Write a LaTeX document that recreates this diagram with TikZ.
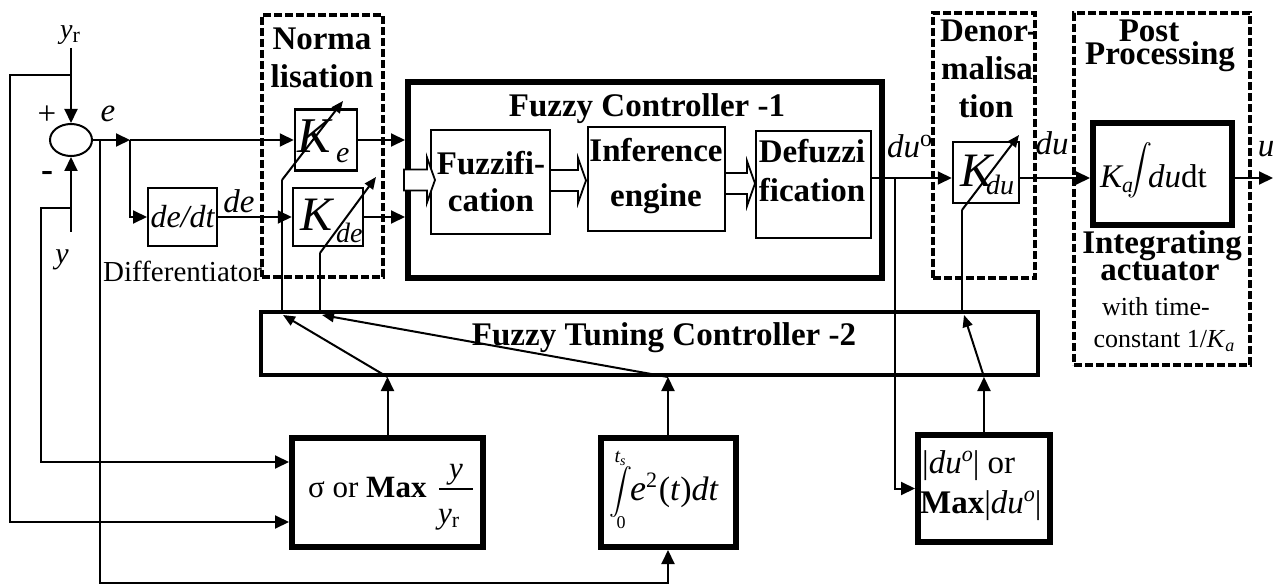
\documentclass[tikz,border=0pt]{standalone}
\usepackage{fontspec}
\setmainfont{Liberation Serif}
\usepackage{graphicx}
\usetikzlibrary{arrows.meta,shapes.geometric,calc}
\newcommand\fsz[1]{\fontsize{#1}{#1}\selectfont}
\newcommand\hollowarr[2]{\draw[line width=1.8pt,fill=white] ($(#1)+(0,-10.5)$) -- ++(#2,0) -- ++(0,-12) -- ++(8,22.5) -- ++(-8,22.5) -- ++(0,-12) -- ++(-#2,0) -- cycle;}
\begin{document}
\begin{tikzpicture}[x=1pt,y=-1pt,
  ln/.style={line width=2pt},
  arr/.style={ln,-{Triangle[length=14pt,width=13pt]}},
  arrs/.style={ln,-{Triangle[length=12pt,width=10pt]}},
  thinbox/.style={draw,line width=2.5pt,inner sep=0pt},
  thickbox/.style={draw,line width=6pt,inner sep=0pt},
  dbox/.style={draw,line width=4pt,dash pattern=on 8pt off 3pt,inner sep=0pt},
  bl/.style={font={\fsz{33}\bfseries},inner sep=0pt},
  txt/.style={inner sep=0pt},
]
\useasboundingbox (0,0) rectangle (1277,588);

% dashed group boxes
\node[dbox,minimum width=121,minimum height=262] (norm) at (322.5,146) {};
\node[dbox,minimum width=102,minimum height=265] (denorm) at (984,145.5) {};
\node[dbox,minimum width=176,minimum height=352] (post) at (1162,189) {};

% blocks
\node[draw,ellipse,line width=2pt,inner sep=0pt,minimum width=42,minimum height=32] (sum) at (71,140) {};
\node[thinbox,line width=2pt,minimum width=69,minimum height=58] (dedt) at (182.5,217) {\fsz{32}\itshape de/dt};
\node[thinbox,minimum width=62,minimum height=61] (Ke) at (326,140) {};
\node[thinbox,minimum width=70,minimum height=58] (Kde) at (328,217) {};
\node[thickbox,minimum width=474,minimum height=196] (fc1) at (645,180) {};
\node[thinbox,minimum width=119,minimum height=104] (fuzz) at (490.5,182) {};
\node[thinbox,minimum width=137,minimum height=104] (inf) at (656.5,179) {};
\node[thinbox,minimum width=115,minimum height=107] (defz) at (813.5,184.5) {};
\node[thinbox,minimum width=66,minimum height=61] (Kdu) at (986,172.5) {};
\node[thickbox,minimum width=139,minimum height=102] (Ka) at (1162.5,174) {};
\node[draw,line width=4pt,inner sep=0pt,minimum width=777,minimum height=63] (tune) at (649.5,343.5) {};
\node[thickbox,minimum width=191,minimum height=109] (sig) at (387.5,492.5) {};
\node[thickbox,minimum width=135,minimum height=109] (intb) at (668,492.5) {};
\node[thickbox,minimum width=132,minimum height=107] (dub) at (984,488.5) {};

% hollow arrows inside controller
\hollowarr{404,180}{23}
\hollowarr{550,180.5}{28}
\hollowarr{725,183.5}{22}

% texts
\node[bl,anchor=base] (tnorm1) at (322,50) {Norma};
\node[bl,anchor=base] (tnorm2) at (322,88) {lisation};
\node[bl,anchor=base] (tfc1) at (647,117) {Fuzzy Controller -1};
\node[bl,anchor=base] (tfz1) at (491,175) {Fuzzifi-};
\node[bl,anchor=base] (tfz2) at (491,212) {cation};
\node[bl,anchor=base] (tin1) at (656,162) {Inference};
\node[bl,anchor=base] (tin2) at (656,207) {engine};
\node[bl,anchor=base] (tdf1) at (812,163) {Defuzzi};
\node[bl,anchor=base] (tdf2) at (812,202) {fication};
\node[bl,anchor=base] (tdn1) at (989,42) {Denor-};
\node[bl,anchor=base] (tdn2) at (987,80) {malisa};
\node[bl,anchor=base] (tdn3) at (986,118) {tion};
\node[bl,anchor=base] (tpp1) at (1149,42) {Post};
\node[bl,anchor=base] (tpp2) at (1160,65) {Processing};
\node[bl,anchor=base] (tia1) at (1162,253) {Integrating};
\node[bl,anchor=base] (tia2) at (1160,280) {actuator};
\node[txt,anchor=base,font=\fsz{26}] (twt) at (1156,315) {with time-};
\node[txt,anchor=base,font=\fsz{26}] (tct) at (1164,347) {constant 1/\textit{K}{\fsz{18}\raisebox{-4pt}{\textit{a}}}};
\node[bl,anchor=base] (ttune) at (664,345) {Fuzzy Tuning Controller -2};

\node[txt,anchor=base west] (lyr) at (60,39) {{\fsz{28}\itshape y}{\fsz{22}\raisebox{-4pt}{r}}};
\node[txt] (lplus) at (47,115) {\fsz{33}+};
\node[txt] (lminus) at (47,176) {\fsz{36}\bfseries -};
\node[txt] (le) at (108,114) {\fsz{33}\itshape e};
\node[txt] (lde) at (239,201) {\fsz{33}\itshape de};
\node[txt] (ly) at (62,260) {\fsz{30}\itshape y};
\node[txt,anchor=base west] (ldiff) at (103,281) {\fsz{29}Differentiator};

\node[txt,anchor=base west] (keK) at (297,153) {\fsz{50}\itshape K};
\node[txt,anchor=base west] (keS) at (336,163) {\fsz{30}\itshape e};
\node[txt,anchor=base west] (kdeK) at (300,230) {\fsz{48}\itshape K};
\node[txt,anchor=base west] (kdeS) at (336,243) {\fsz{28}\itshape de};
\node[txt,anchor=base west] (kduK) at (960,187) {\fsz{48}\itshape K};
\node[txt,anchor=base west] (kduS) at (986,195) {\fsz{28}\itshape du};

\node[txt,anchor=base west] (lduo) at (887,158) {{\fsz{33}\itshape du}{\fsz{24}\raisebox{11pt}{o}}};
\node[txt,anchor=base] (ldu) at (1052,155) {\fsz{33}\itshape du};
\node[txt,anchor=base] (lu) at (1266,157) {\fsz{33}\itshape u};

\node[txt,anchor=base west] (kaK) at (1100,188) {{\fsz{33}\itshape K}{\fsz{22}\raisebox{-5pt}{\itshape a}}};
\node[txt] (kaint) at (1140,170) {\scalebox{2.5}{$\displaystyle\int$}};
\node[txt,anchor=base west] (kadu) at (1148,188) {\fsz{33}\textit{du}dt};

\node[txt,anchor=base west] (stxt) at (308,497) {\fsz{31}σ or \textbf{Max}};
\node[txt,anchor=base] (snum) at (456,478) {\fsz{31}\itshape y};
\node[txt,anchor=base west] (sden) at (438,523) {{\fsz{31}\itshape y}{\fsz{22}\raisebox{-4pt}{r}}};
\draw[line width=1.2pt] (439,489) -- (473,489);

\node[txt] (iint) at (621,492) {\scalebox{2.3}{$\displaystyle\int$}};
\node[txt,anchor=base] (its) at (620,462) {{\fsz{20}\itshape t}{\fsz{14}\raisebox{-3pt}{\itshape s}}};
\node[txt,anchor=base] (izero) at (621,528) {\fsz{18}0};
\node[txt,anchor=base west] (ie) at (630,500) {{\fsz{36}\itshape e}{\fsz{22}\raisebox{13pt}{2}}\,{\fsz{34}(\textit{t})\textit{dt}}};

\node[txt,anchor=base west] (dl1) at (922,473) {\fsz{33}|\textit{du}{\fsz{22}\raisebox{12pt}{\textit{o}}}| or};
\node[txt,anchor=base west] (dl2) at (920,513) {\fsz{33}\textbf{Max}|\textit{du}{\fsz{22}\raisebox{12pt}{\textit{o}}}|};

% coordinates
\coordinate (yrtop) at (71,48);
\coordinate (yrbr) at (71,75);
\coordinate (ybot) at (71,232);
\coordinate (ybr) at (71,208);
\coordinate (lft1) at (10,522);
\coordinate (lft2) at (41,462);
\coordinate (ebr) at (130,140);
\coordinate (e2) at (100,140);
\coordinate (bot) at (100,583);
\coordinate (duo) at (895,178);
\coordinate (kebase) at (282,180);
\coordinate (ketip) at (343,101);
\coordinate (kdebase) at (320,253);
\coordinate (kdetip) at (376,177);
\coordinate (kdubase) at (962,210);
\coordinate (kdutip) at (1019,135);
\coordinate (uend) at (1273,178);
\coordinate (t1) at (283,315);
\coordinate (t2) at (322,315);
\coordinate (t3) at (964,315);

% connectors
\draw[arr] (yrtop) -- (sum.north);
\draw[arr] (yrbr) -| (lft1) -- (lft1 -| sig.west);
\draw[arr] (ybot) -- (sum.south);
\draw[arr] (ybr) -| (lft2) -- (lft2 -| sig.west);
\draw[arr] (sum.east) -- (ebr);
\draw[arr] (ebr) -- (Ke.west);
\draw[arr] (ebr) |- (dedt.west);
\draw[arr] (e2) -- (bot) -| (intb.south);
\draw[arr] (dedt.east) -- (Kde.west);
\draw[arr] (Ke.east) -- (Ke.east -| fc1.west);
\draw[arr] (Kde.east) -- (Kde.east -| fc1.west);

\draw[arrs] (kebase) -- (ketip);
\draw[ln] (kebase) -- (kebase |- tune.north);
\draw[arrs] (kdebase) -- (kdetip);
\draw[ln] (kdebase) -- (kdebase |- tune.north);
\draw[arrs] (kdubase) -- (kdutip);
\draw[ln] (kdubase) -- (kdubase |- tune.north);

\draw[arr] (sig.north) -- (sig.north |- tune.south);
\draw[arrs] (sig.north |- tune.south) -- (t1);
\draw[arr] (intb.north) -- (intb.north |- tune.south);
\draw[arrs] (intb.north |- tune.south) -- (t2);
\draw[arr] (dub.north) -- (dub.north |- tune.south);
\draw[arrs] (dub.north |- tune.south) -- (t3);

\draw[ln] (defz.east |- duo) -- (duo);
\draw[arr] (duo) -- (duo -| Kdu.west);
\draw[arr] (duo) |- (dub.west);
\draw[arr] (Kdu.east |- duo) -- (Ka.west |- duo);
\draw[arr] (Ka.east |- duo) -- (uend);
\end{tikzpicture}
\end{document}
